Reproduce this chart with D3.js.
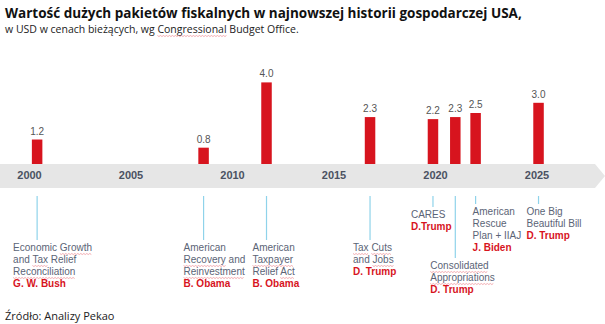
<!DOCTYPE html>
<html>
<head>
<meta charset="utf-8">
<script src="https://cdn.jsdelivr.net/npm/d3@7"></script>
<style>
  body { margin: 0; background: #fff; }
  text { font-family: 'Liberation Sans', Arial, sans-serif; }
</style>
</head>
<body>
<div class="canvas"></div>
<script>
// fiscal packages: timing (fractional year), size in trillion USD
const dates = [2000.4, 2008.6, 2011.7, 2016.8, 2019.9, 2021.0, 2022.0, 2025.1]
const values = [1.2, 0.8, 4.0, 2.3, 2.2, 2.3, 2.5, 3.0]
const acts = [
  ['Economic Growth', 'and Tax Relief', 'Reconciliation'],
  ['American', 'Recovery and', 'Reinvestment'],
  ['American', 'Taxpayer', 'Relief Act'],
  ['Tax Cuts', 'and Jobs'],
  ['CARES'],
  ['Consolidated', 'Appropriations'],
  ['American', 'Rescue', 'Plan + IIAJ'],
  ['One Big', 'Beautiful Bill']
]
const presidents = ['G. W. Bush', 'B. Obama', 'B. Obama', 'D. Trump', 'D.Trump', 'D. Trump', 'J. Biden', 'D. Trump']
const tickYears = [2000, 2005, 2010, 2015, 2020, 2025]

// words the editor flagged with a spelling squiggle
const flagged = ['Growth', 'Tax', 'Reconciliation', 'Recovery', 'Reinvestment', 'Taxpayer', 'Act', 'Cuts', 'Jobs', 'Consolidated', 'Appropriations', 'Congressional']

// leader line length and label offset for each annotation
const leaderEnd = [240, 240, 240, 240, 207, 258, 204, 204]
const labelDx = [-24, -20, -14, -17, -22, -25, -3, -12]

const width = 605
const height = 324

const svg = d3.select('.canvas').append('svg')
  .attr('width', width)
  .attr('height', height)

// write a line word by word, marking flagged words
function wordLine (sel, str) {
  str.split(' ').forEach((w, i, arr) => {
    sel.append('tspan')
      .classed('flag', flagged.includes(w))
      .text(w)
    if (i < arr.length - 1) sel.append('tspan').text(' ')
  })
}

// pink zigzag under each flagged word
function squiggles (textSel) {
  textSel.each(function () {
    const t = this
    const base = +t.getAttribute('y') || 0
    d3.select(t).selectAll('tspan.flag').each(function () {
      const b = this.getBBox()
      const y0 = base + 2.5
      const pts = []
      for (let px = b.x, k = 0; px <= b.x + b.width; px += 1.5, k++) {
        pts.push([px, y0 + (k % 2 ? 1 : 0)])
      }
      d3.select(t.parentNode).append('path')
        .attr('d', d3.line()(pts))
        .attr('fill', 'none')
        .attr('stroke', '#ec8a90')
        .attr('stroke-width', 0.7)
    })
  })
}

svg.append('text')
  .attr('x', 5).attr('y', 18)
  .attr('font-size', 13.5).attr('font-weight', 700).attr('fill', '#111')
  .style('font-family', "'Open Sans', sans-serif")
  .text('Wartość dużych pakietów fiskalnych w najnowszej historii gospodarczej USA,')

svg.append('text')
  .attr('x', 5).attr('y', 33)
  .attr('font-size', 10.5).attr('fill', '#222')
  .style('font-family', "'Open Sans', sans-serif")
  .call(wordLine, 'w USD w cenach bieżących, wg Congressional Budget Office.')
  .call(squiggles)

const x = d3.scaleLinear()
  .domain([2000, 2025])
  .range([29, 536.5])

const bandTop = 164
const bandBottom = 188

const y = d3.scaleLinear()
  .domain([0, 4])
  .range([bandTop, bandTop - 81.6])

// timeline band with arrow head
svg.append('path')
  .attr('d', `M0,${bandTop} H595 L605,${(bandTop + bandBottom) / 2} L595,${bandBottom} H0 Z`)
  .attr('fill', '#e6e6e6')

const xAxis = d3.axisBottom(x)
  .tickValues(tickYears)
  .tickFormat(d3.format('d'))
  .tickSize(0)

const xAxisGroup = svg.append('g')
  .attr('transform', `translate(0,${bandTop})`)
  .call(xAxis)

xAxisGroup.select('.domain').remove()
xAxisGroup.selectAll('text')
  .attr('y', 7)
  .attr('font-size', 11)
  .attr('font-weight', 700)
  .attr('fill', '#4b5262')
  .style('font-family', "'Liberation Sans', sans-serif")

const data = dates.map((d, i) => ({ date: d, value: values[i], act: acts[i], who: presidents[i], end: leaderEnd[i], dx: labelDx[i] }))
const barWidth = 10.5

svg.selectAll('rect.bar')
  .data(data)
  .enter().append('rect')
  .attr('class', 'bar')
  .attr('x', d => x(d.date) - barWidth / 2)
  .attr('width', barWidth)
  .attr('y', d => y(d.value))
  .attr('height', d => bandTop - y(d.value))
  .attr('fill', '#d7141e')

svg.selectAll('text.value')
  .data(data)
  .enter().append('text')
  .attr('class', 'value')
  .attr('x', d => x(d.date))
  .attr('y', d => y(d.value) - 5)
  .attr('text-anchor', 'middle')
  .attr('font-size', 10)
  .attr('fill', '#555')
  .text(d => d.value.toFixed(1))

// annotations below the timeline
svg.selectAll('line.leader')
  .data(data)
  .enter().append('line')
  .attr('class', 'leader')
  .attr('x1', d => x(d.date))
  .attr('x2', d => x(d.date))
  .attr('y1', 196)
  .attr('y2', d => d.end)
  .attr('stroke', '#8fd3ea')
  .attr('stroke-width', 1.2)

const notes = svg.selectAll('g.note')
  .data(data)
  .enter().append('g')
  .attr('class', 'note')
  .attr('transform', d => `translate(${x(d.date) + d.dx},${d.end + 11})`)

notes.each(function (d) {
  const g = d3.select(this)
  d.act.forEach((line, i) => {
    g.append('text')
      .attr('y', i * 12)
      .attr('font-size', 10)
      .attr('fill', '#5b6476')
      .call(wordLine, line)
      .call(squiggles)
  })
  g.append('text')
    .attr('y', d.act.length * 12)
    .attr('font-size', 10)
    .attr('font-weight', 700)
    .attr('fill', '#d7141e')
    .text(d.who)
})

svg.append('text')
  .attr('x', 5).attr('y', 320)
  .attr('font-size', 11).attr('fill', '#222')
  .style('font-family', "'Open Sans', sans-serif")
  .text('Źródło: Analizy Pekao')
</script>
</body>
</html>
